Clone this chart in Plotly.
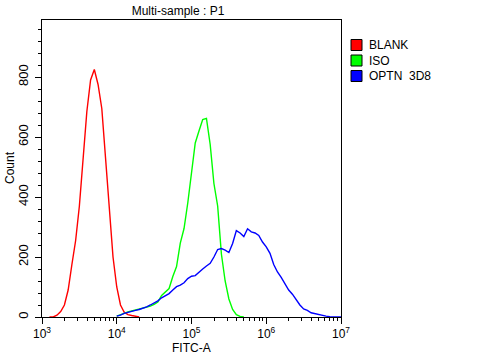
import numpy as np
import plotly.graph_objects as go

# ---- data: histogram counts on log10(FITC-A) bins of 0.05 decade ----
red_log_start, green_log_start, blue_log_start = 3.10, 4.00, 4.00
bin_step = 0.05

blank_counts = [0, 0, 6, 18, 40, 90, 175, 255, 370, 515, 685, 790, 825, 775,
                695, 530, 370, 200, 100, 40, 16, 8, 5, 2, 0]
iso_counts = [3, 8, 13, 17, 20, 23, 26, 29, 32, 36, 42, 50, 72, 82, 95, 135,
              168, 246, 295, 380, 490, 580, 620, 658, 662, 575, 445, 370, 210,
              120, 60, 25, 8, 2, 0]
optn_counts = [3, 6, 12, 16, 19, 22, 25, 29, 34, 40, 46, 54, 64, 72, 78, 90,
               101, 106, 114, 128, 136, 138, 150, 160, 170, 179, 200, 225, 228,
               223, 215, 245, 288, 280, 268, 294, 284, 280, 272, 250, 234, 212,
               175, 150, 132, 112, 90, 76, 58, 40, 27, 22, 14, 11, 8, 4, 3, 1,
               1, 1, 0]

series_names = ["BLANK", "ISO", "OPTN  3D8"]
series_colors = ["#FF0000", "#00FF00", "#0000FF"]
x_tick_exponents = [3, 4, 5, 6, 7]
y_tick_values = [0, 200, 400, 600, 800]


def bins(start, n):
    return 10 ** (start + bin_step * np.arange(n))


series = [
    (bins(red_log_start, len(blank_counts)), blank_counts),
    (bins(green_log_start, len(iso_counts)), iso_counts),
    (bins(blue_log_start, len(optn_counts)), optn_counts),
]

W, H = 478, 356
L, R, T, B = 42, 341, 20, 317

fig = go.Figure()
for (x, y), name, col in zip(series, series_names, series_colors):
    fig.add_trace(go.Scatter(x=x, y=y, mode="lines", name=name,
                             line=dict(color=col, width=1.4, shape="linear"),
                             showlegend=False))

font = dict(family="Liberation Sans, Arial, sans-serif", size=12, color="black")


def px_x(p):
    return (p - L) / (R - L)


def px_y(p):
    return (B - p) / (B - T)


shapes, annotations = [], []
legend_centers = [45, 60.5, 76]
for name, col, cy in zip(series_names, series_colors, legend_centers):
    shapes.append(dict(type="rect", xref="paper", yref="paper",
                       x0=px_x(351), x1=px_x(362), y0=px_y(cy + 5.5), y1=px_y(cy - 5.5),
                       fillcolor=col, line=dict(color="black", width=1)))
    annotations.append(dict(text=name, xref="paper", yref="paper", x=px_x(367),
                            y=px_y(cy), xanchor="left", yanchor="middle",
                            showarrow=False, font=font))

annotations.append(dict(text="FITC-A", xref="paper", yref="paper", x=px_x(191.5),
                        y=px_y(348), xanchor="center", yanchor="middle",
                        showarrow=False, font=font))
annotations.append(dict(text="Count", xref="paper", yref="paper", x=px_x(10),
                        y=px_y(168), xanchor="center", yanchor="middle",
                        textangle=-90, showarrow=False, font=font))

fig.update_layout(
    width=W, height=H,
    margin=dict(l=L, r=W - R, t=T, b=H - B, pad=0),
    paper_bgcolor="white", plot_bgcolor="white",
    font=font,
    title=dict(text="Multi-sample : P1", x=178 / W, xref="container", xanchor="center",
               y=1 - 11 / H, yref="container", yanchor="middle",
               font=dict(family=font["family"], size=12, color="black")),
    shapes=shapes, annotations=annotations,
    showlegend=False,
)
fig.update_xaxes(type="log", range=[3, 7], showline=True, linecolor="black",
                 linewidth=1, mirror=True, showgrid=False, zeroline=False,
                 ticks="outside", ticklen=6, tickcolor="black",
                 tickvals=[10 ** e for e in x_tick_exponents],
                 ticktext=[f"10<sup>{e}</sup>" for e in x_tick_exponents],
                 minor=dict(ticks="outside", ticklen=3, tickcolor="black",
                            dtick="D1", showgrid=False),
                 ticklabelstandoff=0,
                 automargin=False, tickfont=font)
fig.update_yaxes(range=[0, 990], showline=True, linecolor="black", linewidth=1,
                 mirror=True, showgrid=False, zeroline=False,
                 ticks="outside", ticklen=6, tickcolor="black",
                 tickvals=y_tick_values, tickangle=-90,
                 minor=dict(ticks="outside", ticklen=3, tickcolor="black",
                            dtick=40, showgrid=False),
                 ticklabelstandoff=2,
                 automargin=False, tickfont=dict(font, size=13))

fig.write_html("out.html",
               config={"displayModeBar": False},
               post_script="document.body.style.margin='0';"
                           "document.body.style.overflow='hidden';")
